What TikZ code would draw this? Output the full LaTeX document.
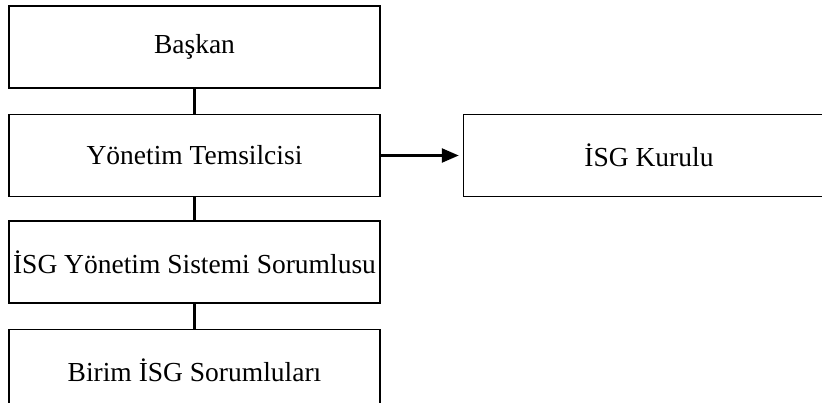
\documentclass[tikz,border=0pt]{standalone}
\usepackage{fontspec}
\setmainfont{Liberation Serif}
\usetikzlibrary{arrows.meta,positioning}

\begin{document}
\begin{tikzpicture}[
    x=1pt, y=-1pt,
    node distance=24pt,
    box/.style={rectangle, draw, line width=1.5pt, minimum height=82pt, minimum width=371pt, align=center, font=\fontsize{27.5}{32}\selectfont, inner sep=0pt},
    link/.style={line width=2.5pt},
    arrow/.style={-{Triangle[length=17pt,width=14pt]}, line width=2.5pt, shorten >=4pt}
]
\useasboundingbox (0,0) rectangle (822,403);

\node[box] (baskan) at (194.5,47) {Başkan};
\node[box, below=25pt of baskan] (temsilci) {Yönetim Temsilcisi};
\node[box, below=23pt of temsilci] (sistem) {İSG Yönetim Sistemi Sorumlusu};
\node[box, below=25pt of sistem] (birim) {Birim İSG Sorumluları};
\node[box, right=82pt of temsilci] (kurul) {İSG Kurulu};

\draw[link] (baskan) -- (temsilci);
\draw[link] (temsilci) -- (sistem);
\draw[link] (sistem) -- (birim);
\draw[arrow] (temsilci) -- (kurul);

\end{tikzpicture}
\end{document}
